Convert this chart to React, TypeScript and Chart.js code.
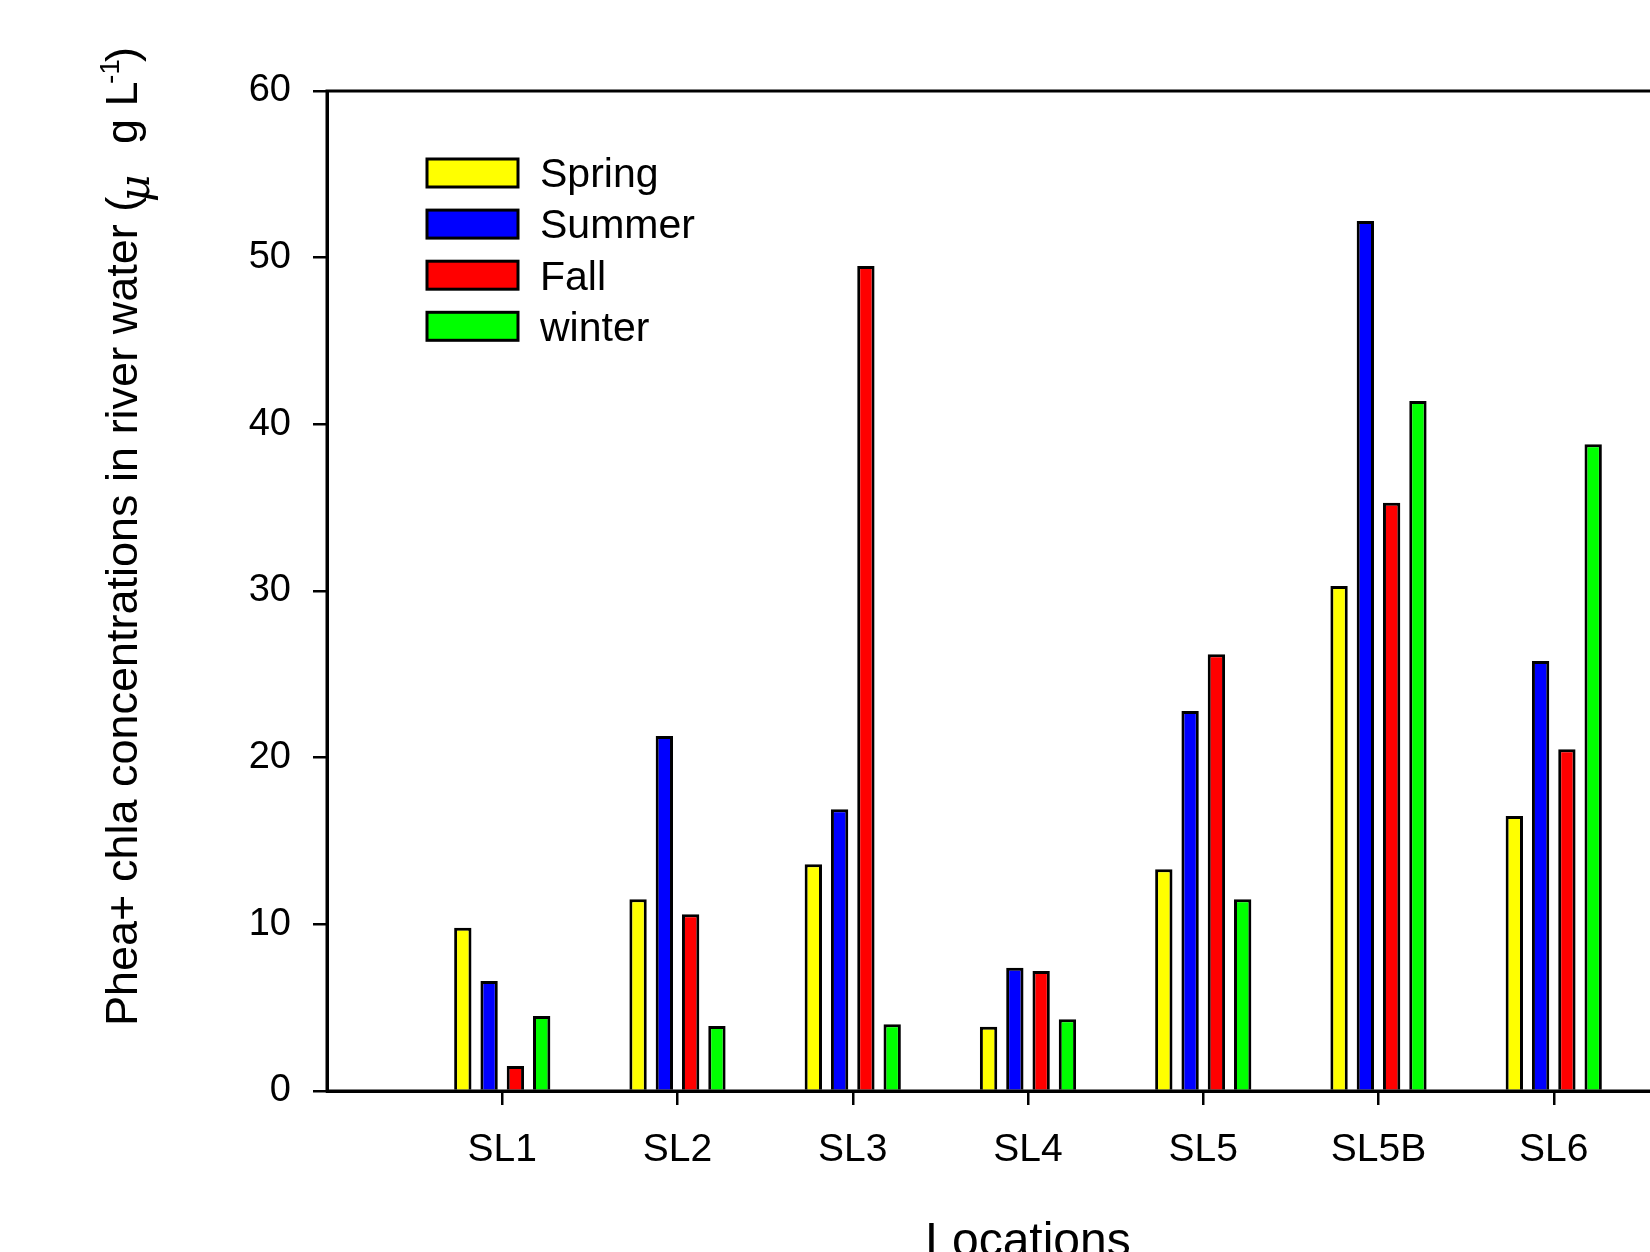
import React, { useEffect, useRef } from 'react';
import { Chart, registerables } from 'chart.js';

Chart.register(...registerables);

// ---- data ----
const categories = ['', 'SL1', 'SL2', 'SL3', 'SL4', 'SL5', 'SL5B', 'SL6', ''];
const spring = [null, 9.8, 11.5, 13.6, 3.85, 13.3, 30.3, 16.5, null];
const summer = [null, 6.6, 21.3, 16.9, 7.4, 22.8, 52.2, 25.8, null];
const fall = [null, 1.5, 10.6, 49.5, 7.2, 26.2, 35.3, 20.5, null];
const winter = [null, 4.5, 3.9, 4.0, 4.3, 11.5, 41.4, 38.8, null];
const seriesNames = ['Spring', 'Summer', 'Fall', 'winter'];
const seriesColors = ['#ffff00', '#0000ff', '#ff0000', '#00ff00'];
const yMin = 0;
const yMax = 60;
const yStep = 10;
const xTitle = 'Locations';
const yTitleMain = 'Phea+ chla concentrations in river water (';
const yTitleMu = 'μ';
const yTitleUnit = 'g L';
const yTitleSup = '-1';
const yTitleEnd = ')';

const FONT = '"Liberation Sans", Arial, Helvetica, sans-serif';
const CANVAS_W = 1760;
const CANVAS_H = 1300;

const overlayPlugin = {
  id: 'overlay',
  afterDraw(chart: any) {
    const ctx = chart.ctx as CanvasRenderingContext2D;
    const area = chart.chartArea;
    ctx.save();
    // frame
    ctx.strokeStyle = '#000';
    ctx.lineWidth = 3;
    ctx.strokeRect(area.left, area.top, area.right - area.left, area.bottom - area.top);

    // legend
    const datasets = chart.data.datasets;
    datasets.forEach((ds: any, i: number) => {
      const bx = 427;
      const by = 159 + i * 51.1;
      ctx.fillStyle = ds.backgroundColor;
      ctx.fillRect(bx, by, 91, 28);
      ctx.lineWidth = 3;
      ctx.strokeStyle = '#000';
      ctx.strokeRect(bx, by, 91, 28);
      ctx.fillStyle = '#000';
      ctx.font = `41px ${FONT}`;
      ctx.textAlign = 'left';
      ctx.textBaseline = 'middle';
      ctx.fillText(ds.label, 540, by + 17);
    });

    // x title
    ctx.fillStyle = '#000';
    ctx.font = `48px ${FONT}`;
    ctx.textAlign = 'center';
    ctx.textBaseline = 'alphabetic';
    ctx.fillText(xTitle, (area.left + area.right) / 2, 1256);

    // y title (rotated)
    ctx.translate(137, 1026);
    ctx.rotate(-Math.PI / 2);
    ctx.textAlign = 'left';
    ctx.textBaseline = 'alphabetic';
    ctx.font = `45px ${FONT}`;
    ctx.fillText(yTitleMain, 0, 0);
    ctx.font = `italic 42px "DejaVu Serif", serif`;
    ctx.fillText(yTitleMu, 824, 12);
    ctx.font = `45px ${FONT}`;
    ctx.fillText(yTitleUnit, 882, 0);
    ctx.font = `28px ${FONT}`;
    ctx.fillText(yTitleSup, 942, -18);
    ctx.font = `45px ${FONT}`;
    ctx.fillText(yTitleEnd, 964, 0);
    ctx.restore();
  },
};

export default function App() {
  const canvasRef = useRef<HTMLCanvasElement | null>(null);

  useEffect(() => {
    if (!canvasRef.current) return;
    const seriesValues = [spring, summer, fall, winter];
    const chart = new Chart(canvasRef.current, {
      type: 'bar',
      data: {
        labels: categories,
        datasets: seriesNames.map((name, i) => ({
          label: name,
          data: seriesValues[i],
          backgroundColor: seriesColors[i],
          borderColor: '#000',
          borderWidth: 3,
          categoryPercentage: 0.6,
          barPercentage: 0.66,
        })),
      },
      options: {
        responsive: false,
        animation: false,
        devicePixelRatio: 1,
        layout: { padding: { left: 0, top: 91, right: CANVAS_W - 1729, bottom: 0 } },
        plugins: {
          legend: { display: false },
          tooltip: { enabled: false },
          title: { display: false },
        },
        scales: {
          x: {
            type: 'category',
            offset: false,
            grid: {
              offset: false,
              display: true,
              drawOnChartArea: false,
              drawTicks: true,
              tickLength: 14,
              lineWidth: 2.5,
              color: (c: any) => (c.tick && c.tick.label ? '#000' : 'rgba(0,0,0,0)'),
            },
            border: { display: true, color: '#000', width: 3 },
            ticks: {
              autoSkip: false,
              maxRotation: 0,
              color: '#000',
              padding: 22,
              font: { family: FONT, size: 39 },
            },
            afterFit: (scale: any) => {
              scale.height = CANVAS_H - 1091;
            },
          },
          y: {
            min: yMin,
            max: yMax,
            grid: {
              display: true,
              drawOnChartArea: false,
              drawTicks: true,
              tickLength: 14,
              lineWidth: 2.5,
              color: '#000',
            },
            border: { display: true, color: '#000', width: 3 },
            ticks: {
              stepSize: yStep,
              color: '#000',
              padding: 22,
              font: { family: FONT, size: 38 },
            },
            afterFit: (scale: any) => {
              scale.width = 327;
            },
          },
        },
      },
      plugins: [overlayPlugin],
    } as any);
    return () => chart.destroy();
  }, []);

  return (
    <div
      style={{
        position: 'fixed',
        left: 0,
        top: 0,
        width: 1650,
        height: 1252,
        overflow: 'hidden',
        background: '#fff',
      }}
    >
      <canvas ref={canvasRef} width={CANVAS_W} height={CANVAS_H} style={{ display: 'block' }} />
    </div>
  );
}
